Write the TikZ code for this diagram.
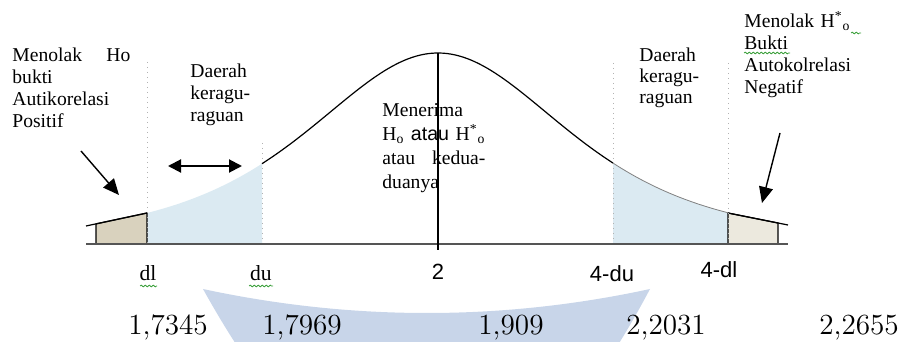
\documentclass[tikz,border=0pt]{standalone}
\usepackage{fontspec}
\newfontfamily\tnr{Liberation Serif}
\newfontfamily\arl{Liberation Sans}
\usetikzlibrary{arrows.meta,decorations.pathmorphing}
\definecolor{tailbeige}{RGB}{217,210,190}
\definecolor{tailbeigeR}{RGB}{236,233,222}
\definecolor{doubtblue}{RGB}{219,234,242}
\definecolor{markblue}{RGB}{200,213,233}
\definecolor{axisgray}{RGB}{85,85,85}
\definecolor{spellgreen}{RGB}{60,160,60}
\begin{document}
\begin{tikzpicture}[x=0.5pt,y=-0.5pt,
  declare function={gq(\t)=1+((\t-438)/239)*((\t-438)/239); gy(\t)=244-191/(gq(\t)*gq(\t));},
  lbl/.style={font=\tnr\fontsize{9.8}{11}\selectfont, inner sep=0pt, anchor=base west, text width=#1, align=left},
  lbl/.default=60pt,
  tick/.style={font=\tnr\fontsize{10.8}{12}\selectfont, inner sep=0pt, anchor=base},
  sticklbl/.style={font=\arl\fontsize{11}{13}\selectfont, inner sep=0pt, anchor=base},
  num/.style={font=\fontsize{14.6}{16}\selectfont, inner sep=0pt, anchor=base},
  guide/.style={gray!60, dotted, line width=0.5pt},
  spell/.style={spellgreen, line width=0.4pt, decorate, decoration={snake, amplitude=0.45pt, segment length=2pt}},
  bigarrow/.style={-{Triangle[length=8pt,width=7pt]}, line width=0.7pt},
  twoarrow/.style={{Triangle[length=6.5pt,width=6.5pt]}-{Triangle[length=6.5pt,width=6.5pt]}, line width=1pt}]
\useasboundingbox (0,0) rectangle (902,342);
% watermark crescent
\begin{scope}
\clip (0,0) rectangle (902,342);
\fill[markblue] (203,289) .. controls (352,321) and (502,321) .. (650,289)
  .. controls (505,563) and (355,563) .. (203,289) -- cycle;
\end{scope}
% doubt regions
\fill[doubtblue] (147,244) -- plot[domain=147:262, samples=30] (\x,{gy(\x)}) -- (262,244) -- cycle;
\fill[doubtblue] (613,244) -- plot[domain=613:728, samples=30] (\x,{gy(\x)}) -- (728,244) -- cycle;
% rejection tails
\filldraw[fill=tailbeige, draw=black, line width=0.6pt] (96,244) -- (96,223.9) -- (147,213) -- (147,244);
\draw[line width=0.6pt] (86,226) -- (147,213);
\filldraw[fill=tailbeigeR, draw=black, line width=0.6pt] (728,244) -- (728,213) -- (778,223) -- (778,244);
\draw[line width=0.6pt] (728,213) -- (788,225);
% guides
\draw[guide] (147,62) -- (147,244);
\draw[guide] (262,143) -- (262,244);
\draw[guide] (613,63) -- (613,244);
\draw[guide] (728,63) -- (728,244);
% curve
\draw[line width=0.6pt] plot[domain=262:613, samples=90] (\x,{gy(\x)});
\draw[gray, line width=0.4pt] plot[domain=613:728, samples=30] (\x,{gy(\x)});
% axis
\draw[axisgray, line width=1.1pt] (86,244) -- (788,244);
% texts
\node[lbl=59pt] (rejL) at (12,62) {\makebox[59pt]{Menolak\hfill Ho}\\ bukti\\ Autikorelasi\\ Positif};
\node[lbl=50pt] (doubtL) at (190,78) {Daerah\\ keragu-\\ raguan};
\node[lbl=56pt, font=\tnr\fontsize{9.8}{12}\selectfont] (acc) at (382,117) {Menerima\\ H\textsubscript{o} {\arl atau} H\textsuperscript{*}\textsubscript{o}\\ \makebox[51.5pt]{atau\hfill kedua-}\\ duanya};
\node[lbl=50pt, font=\tnr\fontsize{9.8}{10.5}\selectfont] (doubtR) at (639,62) {Daerah\\ keragu-\\ raguan};
\node[lbl=75pt] (rejR) at (744,28) {Menolak H\textsuperscript{*}\textsubscript{o}\\ Bukti\\ Autokolrelasi\\ Negatif};
% centre line
\draw[line width=0.6pt] (438,53) -- (438,250);
% arrows
\coordinate (la1) at (81,151);
\coordinate (la2) at (119,195);
\draw[bigarrow] (la1) -- (la2);
\coordinate (ra1) at (780,133);
\coordinate (ra2) at (762,203);
\draw[bigarrow] (ra1) -- (ra2);
\coordinate (da1) at (168,166);
\coordinate (da2) at (242,166);
\draw[twoarrow] (da1) -- (da2);
% tick labels
\node[tick] (dl) at (148,281) {dl};
\node[tick] (du) at (261,281) {du};
\node[sticklbl] (two) at (438,280) {2};
\node[sticklbl] (fdu) at (612,282) {4-du};
\node[sticklbl] (fdl) at (719,278) {4-dl};
% spell marks
\draw[spell] (140,286) -- (157,286);
\draw[spell] (249,286) -- (273,286);
\draw[spell] (744,53) -- (790,53);
\draw[spell] (851,33) -- (861,33);
% values
\node[num] (n1) at (168,335) {1,7345};
\node[num] (n2) at (302,335) {1,7969};
\node[num] (n3) at (511,335) {1,909};
\node[num] (n4) at (666,335) {2,2031};
\node[num] (n5) at (859,335) {2,2655};
\end{tikzpicture}
\end{document}
